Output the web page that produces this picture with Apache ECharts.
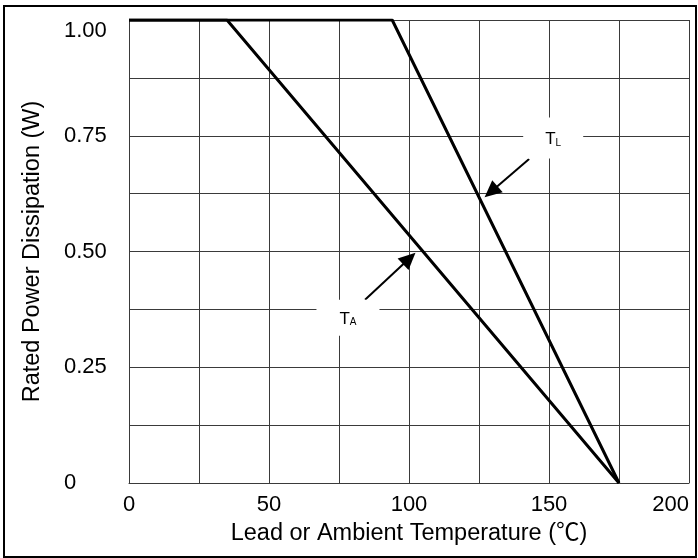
<!DOCTYPE html>
<html>
<head>
<meta charset="utf-8">
<script src="https://cdn.jsdelivr.net/npm/echarts@6/dist/echarts.min.js"></script>
<style>
html, body { margin:0; padding:0; background:#fff; }
#chart { width:698px; height:558px; }
</style>
</head>
<body>
<div id="chart"></div>
<script>
// derating curves : [temperature, rated power]
var taTemps = [0, 35, 175];
var taPower = [1, 1, 0];
var tlTemps = [0, 94, 175];
var tlPower = [1, 1, 0];

var xTicks = [0, 50, 100, 150, 200];
var yTicks = ['0', '0.25', '0.50', '0.75', '1.00'];

// annotation labels and arrows, in data units
var tlLabel = [151.5, 0.745];
var tlArrow = [[142.9, 0.70], [129.3, 0.629]];
var taLabel = [78.2, 0.357];
var taArrow = [[84.3, 0.396], [100.1, 0.485]];

function pairs(xs, ys)
{
	var out = [];
	for (var i = 0; i < xs.length; i++) {
		out.push([xs[i], ys[i]]);
	}
	return out;
}

function initChart()
{
	var FONT = '"Liberation Sans", Arial, "Noto Sans CJK SC", sans-serif';
	var gridColor = '#3a3a3a';

	var labelRich = {
		t : { fontSize: 17, fontFamily: FONT, color:'#000', verticalAlign:'bottom', lineHeight: 20 },
		s : { fontSize: 10, fontFamily: FONT, color:'#000', verticalAlign:'bottom', lineHeight: 20 }
	};

	var option = {
		animation : false,
		backgroundColor : '#fff',
		grid : { left: 129, right: 9, top: 20, bottom: 75 },
		xAxis : {
			type : 'value',
			min : xTicks[0],
			max : xTicks[xTicks.length - 1],
			interval : 50,
			name : 'Lead or Ambient Temperature (℃)',
			nameLocation : 'middle',
			nameGap : 39,
			nameTextStyle : { fontSize: 23.5, fontFamily: FONT, color:'#000' },
			axisLine : { show: true, lineStyle: { color: gridColor, width: 1 } },
			axisTick : { show: false },
			axisLabel : {
				fontSize : 22, fontFamily : FONT, color : '#000', margin : 11,
				alignMaxLabel : 'right',
				formatter : function (v) { return xTicks.indexOf(v) >= 0 ? String(v) : ''; }
			},
			splitLine : { show: true, lineStyle: { color: gridColor, width: 1 } },
			minorTick : { show: false, splitNumber: 2 },
			minorSplitLine : { show: true, lineStyle: { color: gridColor, width: 1 } }
		},
		yAxis : {
			type : 'value',
			min : 0,
			max : 1,
			interval : 0.25,
			name : 'Rated Power Dissipation (W)',
			nameLocation : 'middle',
			nameGap : 85,
			nameTextStyle : { fontSize: 23.5, fontFamily: FONT, color:'#000' },
			axisLine : { show: true, lineStyle: { color: gridColor, width: 1 } },
			axisTick : { show: false },
			axisLabel : {
				fontSize : 22, fontFamily : FONT, color : '#000',
				align : 'left', margin : 65,
				verticalAlignMaxLabel : 'top',
				formatter : function (v) { return yTicks[Math.round(v * 4)]; }
			},
			splitLine : { show: true, lineStyle: { color: gridColor, width: 1 } },
			minorTick : { show: false, splitNumber: 2 },
			minorSplitLine : { show: true, lineStyle: { color: gridColor, width: 1 } }
		},
		graphic : [
			{
				type : 'rect',
				shape : { x: 4, y: 6, width: 692, height: 551 },
				style : { fill: 'none', stroke: '#000', lineWidth: 2 },
				silent : true
			}
		],
		series : [
			{
				name : 'TA',
				type : 'line',
				data : pairs(taTemps, taPower),
				showSymbol : false,
				lineStyle : { color: '#000', width: 3 },
				z : 5,
				markPoint : {
					silent : true,
					symbol : 'rect',
					symbolSize : [63, 36],
					itemStyle : { color: '#fff' },
					label : { show: true, position: 'inside', formatter: '{t|T}{s|A}', rich: labelRich },
					data : [ { coord: taLabel } ]
				},
				markLine : {
					silent : true,
					symbol : ['none', 'triangle'],
					symbolSize : [16, 17],
					label : { show: false },
					lineStyle : { color: '#000', width: 2, type: 'solid' },
					data : [ [ { coord: taArrow[0] }, { coord: taArrow[1] } ] ]
				}
			},
			{
				name : 'TL',
				type : 'line',
				data : pairs(tlTemps, tlPower),
				showSymbol : false,
				lineStyle : { color: '#000', width: 3 },
				z : 5,
				markPoint : {
					silent : true,
					symbol : 'rect',
					symbolSize : [60, 41],
					itemStyle : { color: '#fff' },
					label : { show: true, position: 'inside', formatter: '{t|T}{s|L}', rich: labelRich },
					data : [ { coord: tlLabel } ]
				},
				markLine : {
					silent : true,
					symbol : ['none', 'triangle'],
					symbolSize : [16, 17],
					label : { show: false },
					lineStyle : { color: '#000', width: 2, type: 'solid' },
					data : [ [ { coord: tlArrow[0] }, { coord: tlArrow[1] } ] ]
				}
			}
		]
	};

	var myChart = echarts.init(document.getElementById('chart'));
	myChart.setOption(option);
}

initChart();
</script>
</body>
</html>
